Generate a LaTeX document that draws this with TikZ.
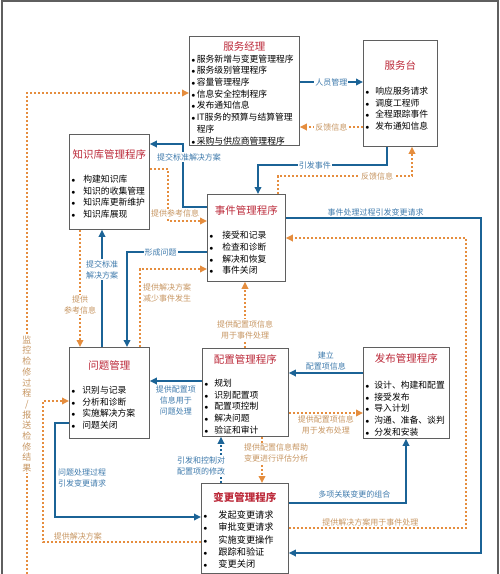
\documentclass[tikz,border=0pt]{standalone}
\usepackage{fontspec}
\setmainfont{Noto Sans CJK SC}
\usepackage{tikz}
\usetikzlibrary{arrows.meta,calc,positioning}
\definecolor{lanxian}{RGB}{27,99,150}
\definecolor{lanzi}{RGB}{62,122,172}
\definecolor{chengxian}{RGB}{229,141,62}
\definecolor{chengzi}{RGB}{199,150,98}
\definecolor{biaotihong}{RGB}{188,42,58}
\definecolor{kuanghui}{RGB}{95,95,95}
\newlength{\xmkuan}
\newcommand{\bt}[1]{\par\noindent{\centering\fontsize{10.5}{13}\selectfont\color{biaotihong}#1\par}}
\newcommand{\xm}[1]{\par\noindent\makebox[\xmkuan][l]{\scriptsize$\bullet$}#1}
\newcommand{\xmxu}[1]{\par\noindent\hspace*{\xmkuan}#1}
\tikzset{
  kuang/.style={
    draw=kuanghui,
    line width=.8pt,
    fill=white,
    anchor=north west,
    inner xsep=2pt,
    inner ysep=1pt,
    font=\fontsize{8.8}{11.7}\selectfont
  },
  kuan/.style={
    execute at begin node={\setlength{\xmkuan}{#1}}
  },
  lanbiao/.style={
    text=lanzi,
    align=center,
    inner sep=1pt,
    font=\fontsize{8}{11}\selectfont
  },
  chengbiao/.style={
    text=chengzi,
    align=center,
    inner sep=1pt,
    font=\fontsize{8}{11}\selectfont
  },
  lanjian/.style={
    -{Triangle[length=7pt,width=6.5pt]},
    line width=1.8pt,
    lanxian
  },
  chengjian/.style={
    -{Triangle[length=7pt,width=6.5pt]},
    line width=1.8pt,
    dash pattern=on 2.2pt off 1.8pt,
    chengxian
  }
}
\begin{document}
\begin{tikzpicture}[x=1pt,y=-1pt]
\useasboundingbox (0,0) rectangle (500,574);
\draw[kuanghui,line width=1.4pt] (2,574) -- (2,1) -- (498,1) -- (498,574);

% 各个管理程序
\node[kuang,kuan=5.5pt,text width=106pt,minimum height=109pt] (fwjl) at (189,36) {\bt{服务经理}
  \xm{服务新增与变更管理程序}
  \xm{服务级别管理程序}
  \xm{容量管理程序}
  \xm{信息安全控制程序}
  \xm{发布通知信息}
  \xm{IT服务的预算与结算管理}
  \xmxu{程序}
  \xm{采购与供应商管理程序}};
\node[kuang,kuan=10pt,text width=70pt,minimum height=106pt] (fwt) at (363,40) {\bt{服务台}\vspace{13pt}
  \xm{响应服务请求}
  \xm{调度工程师}
  \xm{全程跟踪事件}
  \xm{发布通知信息}};
\node[kuang,kuan=12pt,text width=76pt,minimum height=95pt] (zsk) at (69,134) {\bt{知识库管理程序}\vspace{12pt}
  \xm{构建知识库}
  \xm{知识的收集管理}
  \xm{知识库更新维护}
  \xm{知识库展现}};
\node[kuang,kuan=13pt,text width=74pt,minimum height=87pt] (sj) at (207,194) {\bt{事件管理程序}\vspace{13pt}
  \xm{接受和记录}
  \xm{检查和诊断}
  \xm{解决和恢复}
  \xm{事件关闭}};
\node[kuang,kuan=11pt,text width=76pt,minimum height=91pt] (wt) at (69,347) {\bt{问题管理}\vspace{12pt}
  \xm{识别与记录}
  \xm{分析和诊断}
  \xm{实施解决方案}
  \xm{问题关闭}};
\node[kuang,kuan=10pt,text width=82pt,minimum height=88pt] (pz) at (202,348) {\bt{配置管理程序}\vspace{11pt}
  \xm{规划}
  \xm{识别配置项}
  \xm{配置项控制}
  \xm{解决问题}
  \xm{验证和审计}};
\node[kuang,kuan=9pt,text width=82pt,minimum height=91pt] (fb) at (363,347) {\bt{发布管理程序}\vspace{14pt}
  \xm{设计、构建和配置}
  \xm{接受发布}
  \xm{导入计划}
  \xm{沟通、准备、谈判}
  \xm{分发和安装}};
\node[kuang,kuan=15pt,text width=83pt,minimum height=90pt,font=\fontsize{9.2}{12.2}\selectfont] (bg) at (201,483) {\bt{\bfseries 变更管理程序}\vspace{5pt}
  \xm{发起变更请求}
  \xm{审批变更请求}
  \xm{实施变更操作}
  \xm{跟踪和验证}
  \xm{变更关闭}};

% 服务经理、服务台
\draw[lanjian] (fwjl.east |- 0,82) -- node[lanbiao,fill=white] (rygl) {人员管理} (fwt.west |- 0,82);
\draw[chengjian] (fwt.west |- 0,127) -- node[chengbiao,fill=white] (fkxx1) {反馈信息} (fwjl.east |- 0,127);
\coordinate (jkqd) at (27,574);
\draw[chengjian] (jkqd) |- (fwjl.west |- 0,93);
\node[chengbiao,fill=white,font=\fontsize{9}{10.7}\selectfont] (jkjx) at (27,404) {监\\控\\检\\修\\过\\程\\/\\报\\送\\检\\修\\结\\果};

% 事件管理
\draw[lanjian] (fwt.south -| 387,0) |- node[lanbiao,fill=white,pos=.78] (yfsj) {引发事件} (258,165) -- (sj.north -| 258,0);
\draw[chengjian] (sj.north -| 278,0) |- node[chengbiao,fill=white,pos=.87] (fkxx2) {反馈信息} (412,176) -- (fwt.south -| 412,0);
\draw[lanjian] (sj.west |- 0,207) -| (183,144) -- (zsk.east |- 0,144);
\draw[chengjian] (zsk.east |- 0,169) -| (168,221) -- (sj.west |- 0,221);
\node[lanbiao,fill=white] (tjbz1) at (189,157) {提交标准解决方案};
\node[chengbiao,fill=white,inner sep=.5pt] (tgck1) at (175,213) {提供参考信息};
\draw[lanjian] (sj.east |- 0,218) -| node[lanbiao,above,pos=.23] (sjcl) {事件处理过程引发变更请求} (481,553) -- (bg.east |- 0,553);
\draw[chengjian] (bg.east |- 0,528) -| node[chengbiao,above,pos=.23] (tgjj1) {提供解决方案用于事件处理} (466,238) -- (sj.east |- 0,238);

% 问题管理
\draw[lanjian] (sj.west |- 0,252) -| node[lanbiao,fill=white,pos=.29] (xcwt) {形成问题} (wt.north -| 127,0);
\draw[lanjian] (wt.north -| 102,0) -- node[lanbiao,fill=white,pos=.66] (tjbz2) {提交标准\\解决方案} (zsk.south -| 102,0);
\draw[chengjian] (zsk.south -| 80,0) -- node[chengbiao,fill=white,pos=.64] (tgck2) {提供\\参考信息} (wt.north -| 80,0);
\draw[chengjian] (wt.north -| 140,0) |- (sj.west |- 0,269);
\node[chengbiao,align=left,anchor=west] (tgjj2) at (142,293) {提供解决方案\\减少事件发生};
\draw[lanjian] (pz.west |- 0,381) -- node[lanbiao,below=3pt] (tgpz1) {提供配置项\\信息用于\\问题处理} (wt.east |- 0,381);
\draw[lanjian] (wt.west |- 0,423) -| (55,517) -- (bg.west |- 0,517);
\node[lanbiao,align=left,anchor=west] (wtcl) at (57,478) {问题处理过程\\引发变更请求};
\draw[chengjian] (bg.west |- 0,542) -| node[chengbiao,above,pos=.39] (tgjj3) {提供解决方案} (43,401) -- (wt.west |- 0,401);

% 配置管理、发布管理、变更管理
\draw[chengjian] (pz.north -| 245,0) -- node[chengbiao,fill=white,pos=.28] (tgpz2) {提供配置项信息\\用于事件处理} (sj.south -| 245,0);
\draw[lanjian] (fb.west |- 0,373) -- node[lanbiao,above=1pt] (jlpz) {建立\\配置项信息} (pz.east |- 0,373);
\draw[chengjian] (pz.east |- 0,413) -- node[chengbiao,below=1pt] (tgpz3) {提供配置项信息\\用于发布处理} (fb.west |- 0,413);
\draw[lanjian,dash pattern=on 2.2pt off 1.8pt] (bg.north -| 221,0) -- (pz.south -| 221,0);
\node[lanbiao,fill=white] (yfkz) at (201,466) {引发和控制对\\配置项的修改};
\draw[chengjian] (pz.south -| 262,0) -- (bg.north -| 262,0);
\node[chengbiao,fill=white] (tgpz4) at (276,453) {提供配置信息帮助\\变更进行评估分析};
\draw[lanjian] (bg.east |- 0,503) -| node[lanbiao,above=3pt,pos=.28] (dxgl) {多项关联变更的组合} (fb.south -| 406,0);
\end{tikzpicture}
\end{document}
